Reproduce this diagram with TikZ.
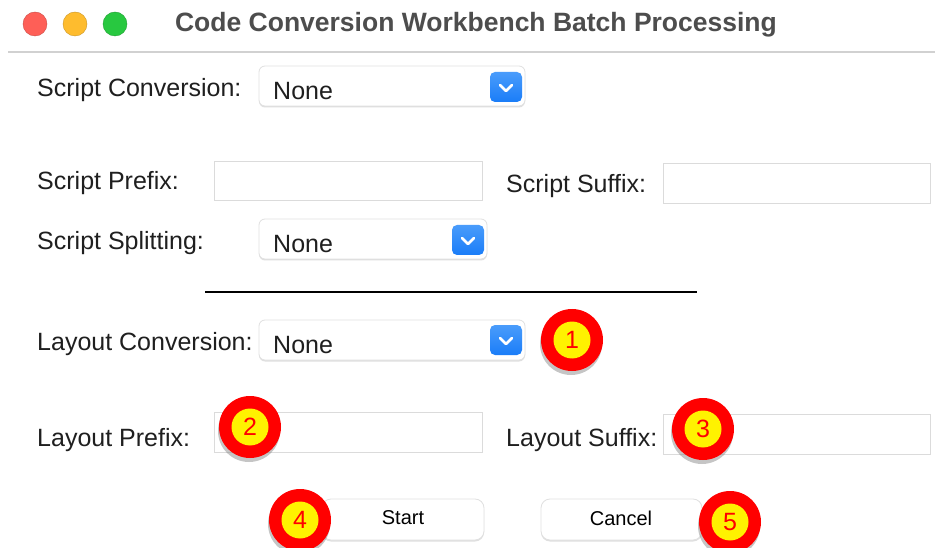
\documentclass[tikz,border=0pt]{standalone}
\usepackage{fontspec}
\setmainfont{Liberation Sans}
\usetikzlibrary{shadows}

\definecolor{lightred}{HTML}{FE5F57}
\definecolor{lightamber}{HTML}{FEBC2E}
\definecolor{lightgreen}{HTML}{28C840}
\definecolor{titlegray}{HTML}{4D4D4D}
\definecolor{popblue}{HTML}{1A7DF8}
\definecolor{popbluetop}{HTML}{4A9CFB}

\begin{document}
\begin{tikzpicture}[x=1pt, y=-1pt,
    lbl/.style={anchor=base west, inner sep=0, text=black!88, font=\fontsize{25}{30}\selectfont},
    field/.style={draw=black!14, fill=white, line width=0.9pt},
    combo/.style={draw=black!12, fill=white, line width=0.8pt, rounded corners=6pt,
      drop shadow={shadow xshift=0pt, shadow yshift=-1.5pt, opacity=0.25}},
    popbtn/.style={rounded corners=5pt, top color=popbluetop, bottom color=popblue, draw=none},
    pushbtn/.style={draw=black!12, fill=white, line width=0.8pt, rounded corners=9pt,
      drop shadow={shadow xshift=0pt, shadow yshift=-1.5pt, opacity=0.25}},
    badge/.style={circle, fill=red, minimum size=62pt, inner sep=0,
      drop shadow={shadow xshift=-1pt, shadow yshift=-4pt, opacity=0.45}},
    badgenum/.style={circle, fill=yellow, minimum size=37pt, inner sep=0, text=red,
      font=\fontsize{25}{30}\selectfont}]
  \useasboundingbox[fill=white] (0,0) rectangle (935,548);

  % title bar
  \foreach \c/\x in {lightred/35, lightamber/75, lightgreen/115}
    \draw[fill=\c, draw=\c!80!black, line width=0.4pt] (\x,24) circle (12);
  \node[anchor=base, inner sep=0, text=titlegray, font=\bfseries\fontsize{26.5}{30}\selectfont] (title) at (476,32) {Code Conversion Workbench Batch Processing};
  \draw[black!18, line width=1.5pt] (8,52) -- (935,52);

  % script part
  \node[lbl] (scriptconv) at (37,97) {Script Conversion:};
  \draw[combo] (259,66) rectangle (525,106);
  \draw[popbtn] (490,72) rectangle (522,102);
  \draw[white, line width=2.6pt, line cap=round, line join=round] (500,85) -- (506,91) -- (512,85);
  \node[lbl] (scriptconvval) at (273,100) {None};

  \node[lbl] (scriptpre) at (37,190) {Script Prefix:};
  \draw[field] (214,161) rectangle (482,200);
  \node[lbl] (scriptsuf) at (506,193) {Script Suffix:};
  \draw[field] (663,163) rectangle (930,203);

  \node[lbl] (scriptsplit) at (37,250) {Script Splitting:};
  \draw[combo] (259,219) rectangle (487,259);
  \draw[popbtn] (452,225) rectangle (484,255);
  \draw[white, line width=2.6pt, line cap=round, line join=round] (462,238) -- (468,244) -- (474,238);
  \node[lbl] (scriptsplitval) at (273,253) {None};

  \draw[black, line width=1.8pt] (205,292) -- (697,292);

  % layout part
  \node[lbl] (layoutconv) at (37,350) {Layout Conversion:};
  \draw[combo] (259,320) rectangle (525,360);
  \draw[popbtn] (490,325) rectangle (522,355);
  \draw[white, line width=2.6pt, line cap=round, line join=round] (500,338) -- (506,344) -- (512,338);
  \node[lbl] (layoutconvval) at (273,353) {None};

  \node[lbl] (layoutpre) at (37,446) {Layout Prefix:};
  \draw[field] (214,412) rectangle (482,452);
  \node[lbl] (layoutsuf) at (506,446) {Layout Suffix:};
  \draw[field] (663,414) rectangle (930,454);

  % buttons
  \draw[pushbtn] (322,499) rectangle (484,540);
  \node[inner sep=0, font=\fontsize{20}{24}\selectfont] (start) at (403,518) {Start};
  \draw[pushbtn] (541,499) rectangle (702,540);
  \node[inner sep=0, font=\fontsize{20}{24}\selectfont] (cancel) at (621,518) {Cancel};

  % numbered badges
  \foreach \n/\x/\y in {1/572/340, 2/250/427, 3/703/429, 4/300/520, 5/730/522} {
    \node[badge] (badge\n) at (\x,\y) {};
    \node[badgenum] at (badge\n) {\n};
  }
\end{tikzpicture}
\end{document}
